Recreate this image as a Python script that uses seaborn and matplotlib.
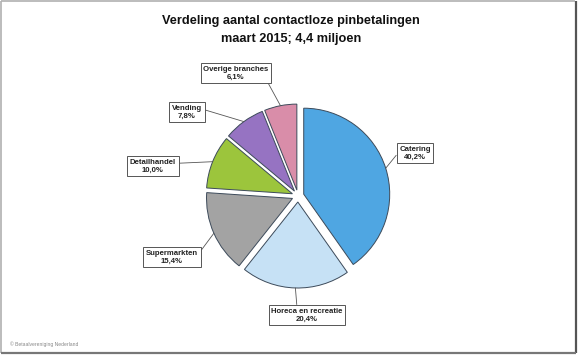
import numpy as np
import matplotlib
matplotlib.use("Agg")
import matplotlib.pyplot as plt
import seaborn as sns

sns.set_theme(style="white")
plt.rcParams['font.family'] = ['Liberation Sans', 'DejaVu Sans']

categories = ["Catering", "Horeca en recreatie", "Supermarkten", "Detailhandel", "Vending", "Overige branches"]
values = [40.2, 20.4, 15.4, 10.0, 7.8, 6.1]
value_labels = ["40,2%", "20,4%", "15,4%", "10,0%", "7,8%", "6,1%"]
colors = ["#4FA6E2", "#C6E1F5", "#A3A3A3", "#9CC53C", "#9673C2", "#D98DA9"]

W, H = 580, 356
fig = plt.figure(figsize=(W / 100, H / 100), dpi=100)
ax = fig.add_axes([0, 0, 1, 1])

cx, cy = 298, H - 196
r = 86
gap = 6.0  # explode offset in data (pixel) units
ax.pie(values, colors=colors, startangle=90, counterclock=False,
       center=(cx, cy), radius=r, explode=[gap] * len(values),
       wedgeprops=dict(edgecolor="#3c4a5a", linewidth=0.7), frame=True)
ax.set_xlim(0, W)
ax.set_ylim(0, H)
ax.set_aspect('equal')
ax.axis('off')

# label boxes (pixel centres) and leader attachment
box_pos = [(415, 153), (307, 315), (172, 257), (153, 166), (187, 112), (236, 73)]
relpos = [(0.0, 0.6), (0.36, 1.0), (1.0, 0.67), (1.0, 0.68), (1.0, 0.7), (0.97, 0.0)]

total = sum(values)
start = 90.0
for i, v in enumerate(values):
    span = 360.0 * v / total
    mid = np.deg2rad(start - span / 2)
    start -= span
    ox = cx + gap * np.cos(mid)
    oy = cy + gap * np.sin(mid)
    px = ox + r * np.cos(mid)
    py = oy + r * np.sin(mid)
    bx, by = box_pos[i]
    ax.annotate(f"{categories[i]}\n{value_labels[i]}", xy=(px, py), xytext=(bx, H - by),
                ha='center', va='center', fontsize=5.6, fontweight='bold', color='#222222',
                linespacing=1.15,
                bbox=dict(boxstyle='square,pad=0.35', fc='white', ec='#555555', lw=0.7),
                arrowprops=dict(arrowstyle='-', color='#555555', lw=0.6,
                                relpos=relpos[i], shrinkA=0, shrinkB=0))

ax.text(W / 2 + 1, H - 21, "Verdeling aantal contactloze pinbetalingen", ha='center', va='center',
        fontsize=9.2, fontweight='bold', color='#111111')
ax.text(W / 2 + 1, H - 39, "maart 2015; 4,4 miljoen", ha='center', va='center',
        fontsize=9.2, fontweight='bold', color='#111111')

ax.text(10, H - 344, "\u00a9 Betaalvereniging Nederland", ha='left', va='center',
        fontsize=3.6, color='#888888')

# frame
ax.plot([1, 575], [H - 1, H - 1], color='#b0b0b0', lw=1.2, solid_capstyle='butt')
ax.plot([1, 1], [H - 1, H - 353], color='#b0b0b0', lw=1.2, solid_capstyle='butt')
ax.plot([575.5, 575.5], [H - 1, H - 353], color='#555555', lw=1.6, solid_capstyle='butt')
ax.plot([1, 575.5], [H - 353, H - 353], color='#777777', lw=1.6, solid_capstyle='butt')

fig.savefig("out.png", dpi=100)
